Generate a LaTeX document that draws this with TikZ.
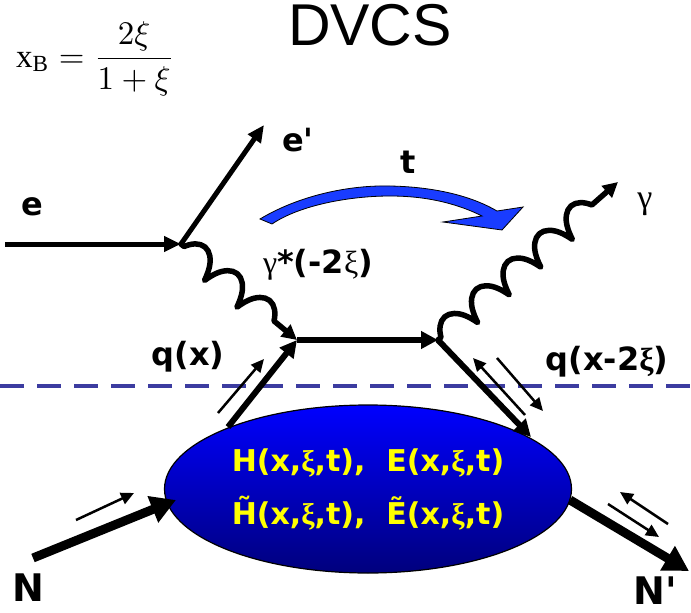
\documentclass[tikz,border=0pt]{standalone}
\usepackage{fontspec}
\usepackage{graphicx}
\setmainfont{Liberation Serif}
\newfontfamily\arialf{Liberation Sans}
\newfontfamily\lblf{DejaVu Sans}
\newfontfamily\symf{Liberation Serif}
\usetikzlibrary{arrows.meta,decorations.pathmorphing,shapes.geometric}
\definecolor{dashblue}{RGB}{60,60,160}
\definecolor{tblue}{RGB}{25,60,255}
\definecolor{blobtop}{RGB}{0,0,255}
\definecolor{blobmid}{RGB}{0,0,225}
\definecolor{blobbot}{RGB}{0,0,125}
\definecolor{gpdyellow}{RGB}{255,255,0}
\begin{document}
\begin{tikzpicture}[x=1pt,y=-1pt,
 lbl/.style={font=\lblf\bfseries\fontsize{32}{36}\selectfont, inner sep=0pt},
 biglbl/.style={font=\lblf\bfseries\fontsize{38}{42}\selectfont, inner sep=0pt},
 lepton/.style={line width=5pt, -{Triangle[length=17pt,width=15pt]}},
 quark/.style={line width=6pt, -{Triangle[length=17pt,width=17pt]}},
 nucleon/.style={line width=9pt, -{Triangle[length=25pt,width=27pt]}},
 flow/.style={line width=2.5pt, -{Triangle[length=13pt,width=12pt]}},
 photon/.style={line width=5.5pt, line join=round, line cap=round, decorate,
   decoration={coil, amplitude=13pt, segment length=42pt, aspect=0.45, post length=12pt, pre length=4pt},
   -{Triangle[length=15pt,width=15pt]}},
]
\useasboundingbox (0,0) rectangle (691,613);

% title and formula
\node[font=\arialf\fontsize{59}{66}\selectfont, anchor=base, inner sep=0pt] (title) at (370,45) {DVCS};
\node[anchor=base west, inner sep=0pt] (xb) at (16,67) {\scalebox{3.3}{$\displaystyle \mathrm{x}_{\mathrm{B}}=\frac{2\xi}{1+\xi}$}};

% dashed line
\coordinate (dl) at (0,386);
\coordinate (dr) at (691,386);
\draw[dashblue, line width=3.5pt, dash pattern=on 24pt off 13pt] (dl) -- (dr);

% blob
\node[ellipse, draw=black, line width=1.2pt, top color=blobtop, middle color=blobmid, bottom color=blobbot,
      minimum width=407pt, minimum height=168pt, inner sep=0pt, align=center,
      text=gpdyellow, font=\lblf\bfseries\fontsize{30}{53}\selectfont] (blob) at (368,489)
  {H(x,{\symf ξ},t),~ E(x,{\symf ξ},t)\\ \~{H}(x,{\symf ξ},t),~ \~{E}(x,{\symf ξ},t)};

% coordinates
\coordinate (ein) at (5,244);
\coordinate (vA) at (181,244);
\coordinate (eout) at (264,125);
\coordinate (vB) at (297,340);
\coordinate (vC) at (438,340);
\coordinate (gout) at (618,182);
\coordinate (qin) at (228,427);
\coordinate (qout) at (531,437);
\coordinate (Nin) at (33,558);
\coordinate (Nend) at (176,500);
\coordinate (Nst) at (570,500);
\coordinate (Nout) at (689,571);
\coordinate (f1a) at (218,413); \coordinate (f1b) at (264,359);
\coordinate (f2a) at (525,415); \coordinate (f2b) at (473,358);
\coordinate (f3a) at (497,358); \coordinate (f3b) at (543,411);
\coordinate (f4a) at (76,520);  \coordinate (f4b) at (134,493);
\coordinate (f5a) at (668,524); \coordinate (f5b) at (620,492);
\coordinate (f6a) at (608,504); \coordinate (f6b) at (659,537);

% lines
\draw[lepton] (ein) -- (vA);
\draw[lepton] (vA) -- (eout);
\draw[photon] (vA) -- (vB);
\draw[photon] (vC) -- (gout);
\draw[quark] (qin) -- (vB);
\draw[quark] (vB) -- (vC);
\draw[quark] (vC) -- (qout);
\draw[nucleon] (Nin) -- (Nend);
\draw[nucleon] (Nst) -- (Nout);
\draw[flow] (f1a) -- (f1b);
\draw[flow] (f2a) -- (f2b);
\draw[flow] (f3a) -- (f3b);
\draw[flow] (f4a) -- (f4b);
\draw[flow] (f5a) -- (f5b);
\draw[flow] (f6a) -- (f6b);

% t arrow
\filldraw[fill=tblue, draw=black, line width=0.8pt]
  (260,219) .. controls (300,195) and (350,185) .. (390,186)
  .. controls (440,187) and (475,198) .. (497,211)
  -- (523,207) -- (502,230) -- (443,222) -- (482,216)
  .. controls (460,205) and (430,196) .. (390,196)
  .. controls (350,196) and (300,205) .. (272,224) -- cycle;

% labels
\node[lbl] (le) at (32,207) {e};
\node[lbl] (lep) at (298,140) {e'};
\node[lbl] (lt) at (408,162) {t};
\node[lbl] (lgs) at (318,265) {{\symf\mdseries γ}*(-2{\symf\mdseries ξ})};
\node[lbl] (lqx) at (188,357) {q(x)};
\node[lbl] (lqx2) at (607,362) {q(x-2{\symf ξ})};
\node[font=\symf\fontsize{34}{38}\selectfont, inner sep=0pt] (lg) at (645,204) {γ};
\node[biglbl] (lN) at (28,588) {N};
\node[biglbl] (lNp) at (655,591) {N'};
\end{tikzpicture}
\end{document}
